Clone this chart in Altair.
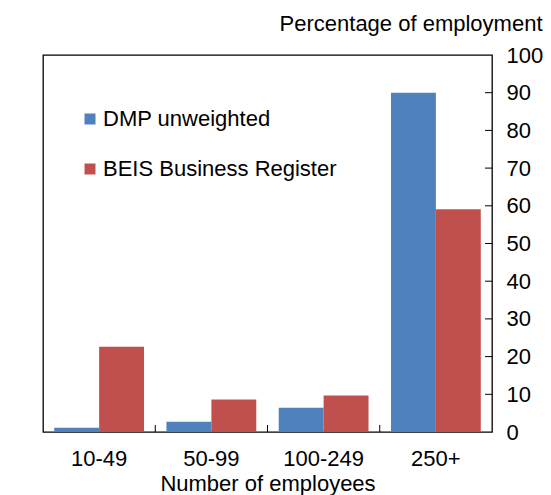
import altair as alt
import pandas as pd

categories = ["10-49", "50-99", "100-249", "250+"]
series_names = ["DMP unweighted", "BEIS Business Register"]
dmp_values = [1.1, 2.7, 6.4, 90.0]
beis_values = [22.6, 8.6, 9.7, 59.1]
y_ticks = [0, 10, 20, 30, 40, 50, 60, 70, 80, 90, 100]
colors = ["#4F81BD", "#C0504D"]

rows = []
for c, d, b in zip(categories, dmp_values, beis_values):
    rows.append({"cat": c, "series": series_names[0], "value": d})
    rows.append({"cat": c, "series": series_names[1], "value": b})
df = pd.DataFrame(rows)

FONT = "Liberation Sans"
W, H = 449, 377
PAD_IN, PAD_OUT = 0.2, 0.1
step = W / (len(categories) - PAD_IN + 2 * PAD_OUT)

xscale = alt.Scale(domain=categories, paddingInner=PAD_IN, paddingOuter=PAD_OUT)
yscale = alt.Scale(domain=[0, 100], nice=False, zero=True)

xaxis = alt.Axis(title="Number of employees", labelAngle=0, ticks=False, tickSize=0,
                 domain=False, grid=False, labelFontSize=22, labelPadding=16,
                 labelColor="black", labelFont=FONT,
                 titleFontSize=22, titleFont=FONT, titleFontWeight="normal",
                 titleColor="black", titleBaseline="alphabetic", titleY=58)
yaxis = alt.Axis(orient="right", title="Percentage of employment", values=y_ticks,
                 ticks=False, tickSize=0, domain=False, grid=False,
                 labelFontSize=22, labelFont=FONT, labelColor="black", labelPadding=14,
                 labelAlign="left",
                 titleAngle=0, titleAlign="right", titleBaseline="alphabetic",
                 titleX=50, titleY=-25, titleFontSize=22, titleFont=FONT,
                 titleFontWeight="normal", titleColor="black")

bars = alt.Chart(df).mark_bar().encode(
    x=alt.X("cat:N", scale=xscale, sort=categories, axis=xaxis),
    xOffset=alt.XOffset("series:N", sort=series_names,
                        scale=alt.Scale(domain=series_names, paddingInner=0, paddingOuter=0)),
    y=alt.Y("value:Q", scale=yscale, axis=yaxis),
    color=alt.Color("series:N", sort=series_names,
                    scale=alt.Scale(domain=series_names, range=colors),
                    legend=alt.Legend(title=None, orient="none", legendX=36, legendY=53,
                                      symbolType="square", symbolSize=121, symbolStrokeWidth=0,
                                      labelFontSize=22, labelFont=FONT, labelColor="black",
                                      labelLimit=500,
                                      labelOffset=2, rowPadding=28, padding=0)),
)

ytick_df = pd.DataFrame({"value": y_ticks[1:-1]})
yticks = alt.Chart(ytick_df).mark_rule(color="black", strokeWidth=1).encode(
    y=alt.Y("value:Q", scale=yscale, axis=yaxis),
    x=alt.value(W - 7),
    x2=alt.value(W),
)

xtick_df = pd.DataFrame({"cat": categories[1:]})
xticks = alt.Chart(xtick_df).mark_rule(color="black", strokeWidth=1,
                                       xOffset=-PAD_IN * step / 2).encode(
    x=alt.X("cat:N", scale=xscale, sort=categories, bandPosition=0, axis=xaxis),
    y=alt.value(H - 7),
    y2=alt.value(H),
)

chart = alt.layer(bars, yticks, xticks).properties(
    width=W, height=H,
    background="white",
    autosize=alt.AutoSizeParams(type="none"),
    padding={"left": 35, "top": 47, "right": 51, "bottom": 63},
).configure_view(stroke="black", strokeWidth=1.3)

chart.save("out.html", embed_options={"renderer": "svg", "actions": False})
